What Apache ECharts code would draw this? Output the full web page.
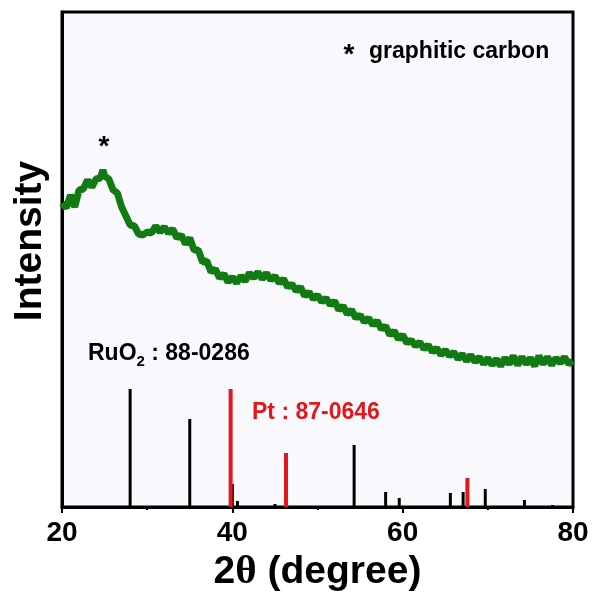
<!DOCTYPE html>
<html>
<head>
<meta charset="utf-8">
<script src="https://cdn.jsdelivr.net/npm/echarts@6/dist/echarts.min.js"></script>
<style>
  html, body { margin: 0; padding: 0; background: #fff; }
  #chart { width: 595px; height: 592px; }
</style>
</head>
<body>
<div id="chart"></div>
<script>
// XRD pattern of the sample (2theta, relative intensity in arbitrary units)
var xrdTheta = [
  20.0, 20.5, 21.0, 21.5, 22.0, 22.5, 23.0, 23.5, 24.0, 24.5, 24.8, 25.0, 25.5, 26.0, 26.5, 27.0, 27.5, 28.0, 28.5, 29.0,
  29.5, 30.0, 30.5, 31.0, 31.5, 32.0, 32.5, 33.0, 33.5, 34.0, 34.5, 35.0, 35.5, 36.0, 36.5, 37.0, 37.5, 38.0, 38.5, 39.0,
  39.5, 40.0, 40.5, 41.0, 41.5, 42.0, 42.5, 43.0, 43.5, 44.0, 44.5, 45.0, 45.5, 46.0, 46.5, 47.0, 47.5, 48.0, 48.5, 49.0,
  49.5, 50.0, 50.5, 51.0, 51.5, 52.0, 52.5, 53.0, 53.5, 54.0, 54.5, 55.0, 55.5, 56.0, 56.5, 57.0, 57.5, 58.0, 58.5, 59.0,
  59.5, 60.0, 60.5, 61.0, 61.5, 62.0, 62.5, 63.0, 63.5, 64.0, 64.5, 65.0, 65.5, 66.0, 66.5, 67.0, 67.5, 68.0, 68.5, 69.0,
  69.5, 70.0, 70.5, 71.0, 71.5, 72.0, 72.5, 73.0, 73.5, 74.0, 74.5, 75.0, 75.5, 76.0, 76.5, 77.0, 77.5, 78.0, 78.5, 79.0,
  79.5, 80.0
];
var xrdIntensity = [
  304, 299, 312, 300, 317, 318, 327, 320, 328, 329, 337, 331, 328, 317, 314, 300, 291, 282, 281, 273,
  272, 275, 274, 281, 275, 280, 274, 278, 269, 272, 263, 269, 257, 257, 245, 246, 235, 238, 229, 233,
  225, 230, 224, 231, 226, 234, 229, 235, 228, 234, 227, 231, 224, 228, 220, 223, 216, 220, 211, 215,
  208, 212, 205, 209, 202, 206, 197, 201, 193, 197, 189, 192, 185, 189, 182, 186, 178, 181, 172, 176,
  168, 172, 164, 167, 161, 165, 158, 162, 155, 159, 152, 157, 151, 155, 148, 153, 146, 152, 145, 150,
  143, 149, 142, 148, 141, 149, 143, 151, 142, 150, 143, 149, 141, 151, 143, 150, 142, 149, 144, 150,
  143, 146
];

// reference cards
var ruo2Theta = [28.0, 35.0, 40.0, 40.6, 45.0, 54.3, 58.0, 59.6, 65.6, 67.1, 69.7, 74.3, 77.6];
var ruo2Height = [118, 88, 23, 6, 3, 62, 15, 9, 14, 15, 18, 7, 2];
var ptTheta = [39.8, 46.3, 67.6];
var ptHeight = [118, 54, 29];

var xTicks = [20, 40, 60, 80];

function pairs(xs, ys) {
  return xs.map(function (x, i) { return [x, ys[i]]; });
}

function stickRenderer(width, color) {
  return function (params, api) {
    var top = api.coord([api.value(0), api.value(1)]);
    var base = api.coord([api.value(0), 0]);
    return {
      type: 'line',
      shape: { x1: top[0], y1: top[1], x2: base[0], y2: base[1] },
      style: { stroke: color, lineWidth: width }
    };
  };
}

var chart = echarts.init(document.getElementById('chart'));
chart.setOption({
  animation: false,
  backgroundColor: '#ffffff',
  grid: {
    left: 62, right: 22, top: 12, bottom: 85,
    outerBoundsMode: 'none',
    containLabel: false,
    show: true,
    backgroundColor: '#f9f9fd',
    borderColor: '#000',
    borderWidth: 3
  },
  xAxis: {
    type: 'value',
    min: 20, max: 80, interval: 20,
    axisLine: { lineStyle: { color: '#000', width: 3 } },
    axisTick: { inside: false, length: 6, lineStyle: { color: '#000', width: 2 } },
    minorTick: { show: true, splitNumber: 2, length: 3, lineStyle: { color: '#000', width: 2 } },
    splitLine: { show: false },
    axisLabel: {
      color: '#000', fontFamily: 'Liberation Sans', fontWeight: 'bold', fontSize: 28, margin: 12,
      formatter: function (v) { return xTicks.indexOf(v) >= 0 ? String(v) : ''; }
    },
    name: '{a|2}{b|θ}{a| (degree)}',
    nameLocation: 'middle',
    nameGap: 39,
    nameTextStyle: {
      verticalAlign: 'top',
      rich: {
        a: { fontFamily: 'Liberation Sans', fontWeight: 'bold', fontSize: 39, color: '#000' },
        b: { fontFamily: 'Liberation Serif', fontWeight: 'bold', fontSize: 41, color: '#000' }
      }
    }
  },
  yAxis: {
    type: 'value',
    min: 0, max: 495,
    axisLine: { show: true, lineStyle: { color: '#000', width: 3 } },
    axisTick: { show: false },
    axisLabel: { show: false },
    splitLine: { show: false }
  },
  graphic: [
    {
      type: 'text', x: 30, y: 241, rotation: Math.PI / 2,
      style: {
        text: 'Intensity', fill: '#000', align: 'center', verticalAlign: 'middle',
        font: 'bold 39px "Liberation Sans"'
      }
    },
    {
      type: 'text', x: 104, y: 147,
      style: { text: '*', fill: '#000', align: 'center', verticalAlign: 'middle', font: 'bold 28px "Liberation Sans"' }
    },
    {
      type: 'text', x: 349, y: 55,
      style: { text: '*', fill: '#000', align: 'center', verticalAlign: 'middle', font: 'bold 28px "Liberation Sans"' }
    },
    {
      type: 'text', x: 369, y: 52,
      style: { text: 'graphitic carbon', fill: '#000', align: 'left', verticalAlign: 'middle', font: 'bold 23px "Liberation Sans"' }
    },
    {
      type: 'text', x: 88, y: 354,
      style: {
        text: '{a|RuO}{s|2}{a| : 88-0286}', align: 'left', verticalAlign: 'middle',
        rich: {
          a: { fontFamily: 'Liberation Sans', fontWeight: 'bold', fontSize: 23, fill: '#000', verticalAlign: 'middle', lineHeight: 30 },
          s: { fontFamily: 'Liberation Sans', fontWeight: 'bold', fontSize: 15, fill: '#000', verticalAlign: 'bottom', lineHeight: 15 }
        }
      }
    },
    {
      type: 'text', x: 252, y: 413,
      style: { text: 'Pt : 87-0646', fill: '#e3171b', align: 'left', verticalAlign: 'middle', font: 'bold 23px "Liberation Sans"' }
    }
  ],
  series: [
    {
      name: 'sample',
      type: 'line',
      data: pairs(xrdTheta, xrdIntensity),
      showSymbol: false,
      smooth: false,
      lineStyle: { color: '#127a12', width: 7 },
      z: 3
    },
    {
      name: 'RuO2',
      type: 'custom',
      data: pairs(ruo2Theta, ruo2Height),
      renderItem: stickRenderer(3, '#000'),
      z: 4
    },
    {
      name: 'Pt',
      type: 'custom',
      data: pairs(ptTheta, ptHeight),
      renderItem: stickRenderer(4, '#e3171b'),
      z: 5
    }
  ]
});
</script>
</body>
</html>
